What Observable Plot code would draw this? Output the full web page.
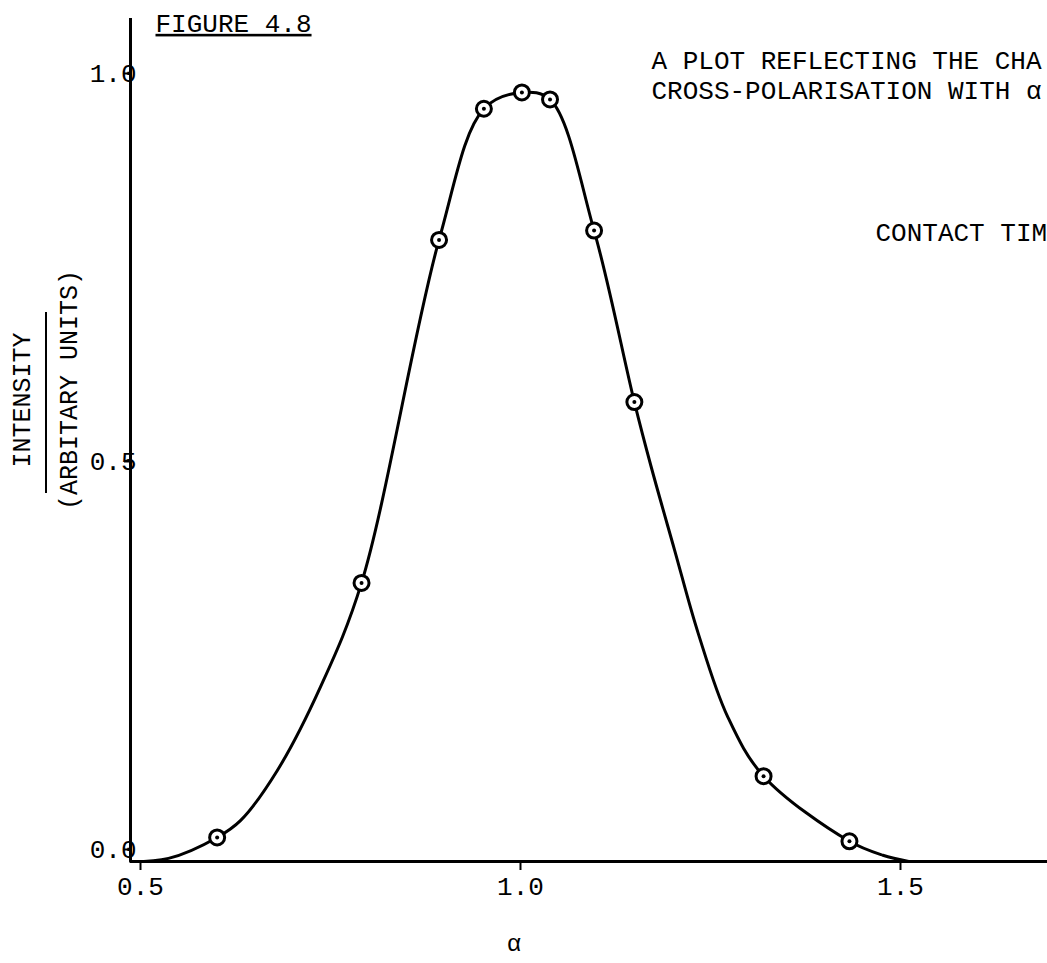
<!DOCTYPE html>
<html><head><meta charset="utf-8">
<script src="https://cdn.jsdelivr.net/npm/d3@7"></script>
<script src="https://cdn.jsdelivr.net/npm/@observablehq/plot@0.6"></script>
<style>
html,body{margin:0;padding:0;background:#fff;overflow:hidden;}
#wrap{position:relative;width:1047px;height:963px;overflow:hidden;font-family:'Liberation Mono','DejaVu Sans Mono',monospace;}
#bar{position:absolute;left:45px;top:312px;width:2px;height:181px;background:#000;}
.ylab{position:absolute;white-space:nowrap;font-size:25px;line-height:1;color:#000;transform:translate(-50%,-50%) rotate(-90deg);}
.fig-label text{text-decoration:underline;}
</style></head><body><div id="wrap"><div id="bar"></div></div>
<script>
// measured points (alpha, intensity)
const pointAlpha     = [0.614, 0.804, 0.906, 0.965, 1.015, 1.052, 1.110, 1.163, 1.333, 1.446];
const pointIntensity = [0.031, 0.359, 0.801, 0.970, 0.991, 0.982, 0.813, 0.592, 0.110, 0.026];
// hand-drawn smooth curve
const curveAlpha     = [0.500, 0.550, 0.614, 0.645, 0.693, 0.750, 0.804, 0.906, 0.965, 1.015, 1.052, 1.110, 1.163, 1.185, 1.216, 1.247, 1.286, 1.333, 1.446, 1.490, 1.524];
const curveIntensity = [0.000, 0.004, 0.031, 0.053, 0.117, 0.225, 0.359, 0.801, 0.970, 0.991, 0.982, 0.813, 0.592, 0.509, 0.401, 0.294, 0.186, 0.110, 0.026, 0.008, 0.000];
const xTicks = [0.5, 1.0, 1.5];
const yTicks = [0.0, 0.5, 1.0];
const figureLabel = "FIGURE 4.8";
const titleLine1 = "A PLOT REFLECTING THE CHA";
const titleLine2 = "CROSS-POLARISATION WITH α";
const noteText = "CONTACT TIM";
const xLabel = "α";
const yLabelTop = "INTENSITY";
const yLabelBottom = "(ARBITARY UNITS)";

const points = pointAlpha.map((a, i) => ({alpha: a, intensity: pointIntensity[i]}));
const curve = curveAlpha.map((a, i) => ({alpha: a, intensity: curveIntensity[i]}));

const font = "'Liberation Mono', 'DejaVu Sans Mono', monospace";
const chart = Plot.plot({
  width: 1047, height: 963,
  marginLeft: 130, marginRight: 0, marginTop: 18, marginBottom: 102,
  x: {domain: [0.5, 1.7066]},
  y: {domain: [0, 1.0863]},
  style: {fontFamily: font, fontSize: "26px", color: "#000", background: "#fff"},
  marks: [
    Plot.ruleY([0], {strokeWidth: 3}),
    Plot.ruleX([0.5], {strokeWidth: 3}),
    Plot.axisX({ticks: xTicks, tickFormat: d3.format(".1f"), tickSize: 9, tickPadding: 6, dx: 10, label: null, strokeWidth: 2, fontSize: 26}),
    Plot.axisY({ticks: yTicks, tickFormat: d3.format(".1f"), tickSize: 6, tickPadding: -12, dy: -12, label: null, strokeWidth: 2, fontSize: 26}),
    Plot.line(curve, {x: "alpha", y: "intensity", curve: "catmull-rom", strokeWidth: 3, stroke: "#000"}),
    Plot.dot(points, {x: "alpha", y: "intensity", r: 7.5, fill: "white", stroke: "#000", strokeWidth: 3}),
    Plot.dot(points, {x: "alpha", y: "intensity", r: 2, fill: "#000"}),
    Plot.text([figureLabel], {frameAnchor: "top-left", text: d => d, textAnchor: "start", lineAnchor: "middle", dx: 25, dy: 5, fontSize: 26, className: "fig-label"}),
    Plot.text([titleLine1], {frameAnchor: "top-left", text: d => d, textAnchor: "start", lineAnchor: "middle", dx: 521, dy: 42, fontSize: 26}),
    Plot.text([titleLine2], {frameAnchor: "top-left", text: d => d, textAnchor: "start", lineAnchor: "middle", dx: 521, dy: 72, fontSize: 26}),
    Plot.text([noteText], {frameAnchor: "top-left", text: d => d, textAnchor: "start", lineAnchor: "middle", dx: 745, dy: 214, fontSize: 26}),
    Plot.text([xLabel], {frameAnchor: "bottom", text: d => d, lineAnchor: "middle", dx: -75, dy: 82, fontSize: 24})
  ]
});
const wrap = document.getElementById("wrap");
wrap.appendChild(chart);
function addYLabel(text, left, top) {
  const d = document.createElement("div");
  d.className = "ylab";
  d.textContent = text;
  d.style.left = left + "px";
  d.style.top = top + "px";
  wrap.appendChild(d);
}
addYLabel(yLabelTop, 23, 400);
addYLabel(yLabelBottom, 70, 390);
</script>
</body></html>
